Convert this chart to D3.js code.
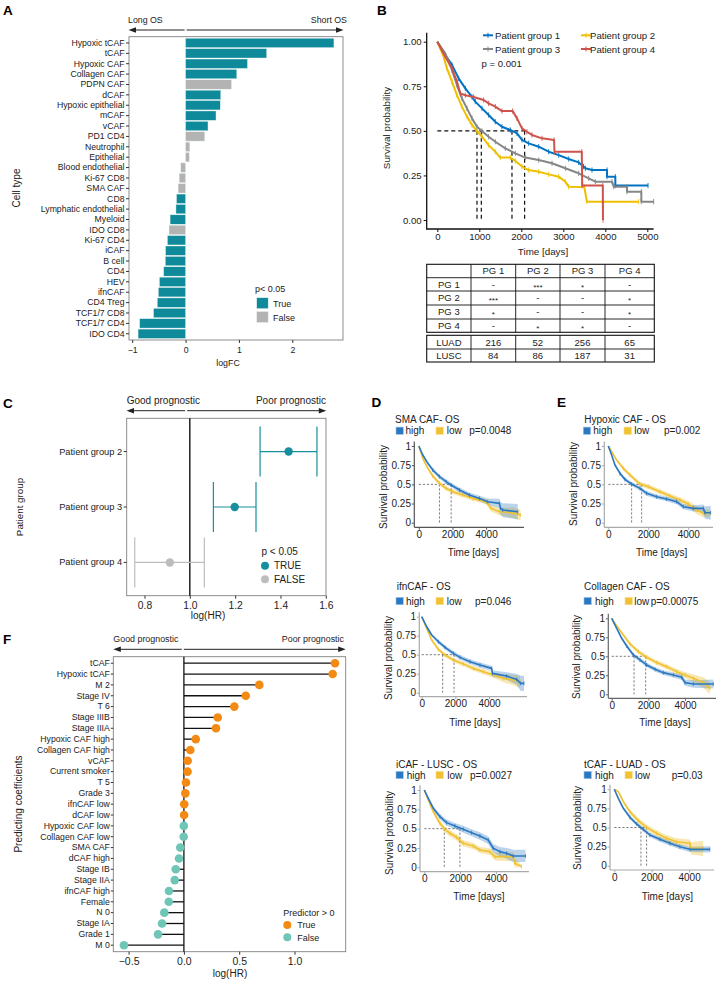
<!DOCTYPE html>
<html><head><meta charset="utf-8">
<script src="https://cdn.jsdelivr.net/npm/d3@7/dist/d3.min.js"></script>
<style>
html,body{margin:0;padding:0;background:#fff;}
svg{display:block;}
text{font-family:"Liberation Sans",Arial,Helvetica,sans-serif;}
</style></head><body>
<svg id="fig" width="719" height="984"></svg>
<script>
// ================= DATA =================
// Panel A
const cellTypes = ["Hypoxic tCAF","tCAF","Hypoxic CAF","Collagen CAF","PDPN CAF","dCAF","Hypoxic epithelial","mCAF","vCAF","PD1 CD4","Neutrophil","Epithelial","Blood endothelial","Ki-67 CD8","SMA CAF","CD8","Lymphatic endothelial","Myeloid","IDO CD8","Ki-67 CD4","iCAF","B cell","CD4","HEV","ifnCAF","CD4 Treg","TCF1/7 CD8","TCF1/7 CD4","IDO CD4"];
const cellLogFC = [2.78,1.52,1.16,0.96,0.86,0.66,0.65,0.57,0.42,0.36,0.08,0.07,-0.09,-0.12,-0.14,-0.17,-0.18,-0.29,-0.31,-0.34,-0.375,-0.38,-0.41,-0.49,-0.51,-0.53,-0.60,-0.86,-0.89];
const cellSignificant = [true,true,true,true,false,true,true,true,true,false,false,false,false,false,false,true,true,true,false,true,true,true,true,true,true,true,true,true,true];
const aTicks = [-1,0,1,2];

// Panel B  [time (days), survival probability]
const pgNames = ["Patient group 1","Patient group 2","Patient group 3","Patient group 4"];
const pg1Curve = [[0,1],[190,0.925],[350,0.87],[508,0.794],[667,0.738],[826,0.69],[905,0.664],[1064,0.626],[1222,0.589],[1381,0.551],[1540,0.523],[1739,0.505],[1898,0.486],[2016,0.449],[2175,0.43],[2414,0.411],[2652,0.383],[2890,0.364],[3128,0.342],[3366,0.323],[3480,0.3],[3525,0.29],[3684,0.28],[4041,0.28],[4041,0.243],[4239,0.243],[4239,0.193],[5018,0.193]];
const pg2Curve = [[0,1],[151,0.916],[230,0.85],[349,0.776],[468,0.70],[587,0.636],[706,0.58],[826,0.533],[945,0.499],[1064,0.467],[1222,0.42],[1381,0.383],[1500,0.35],[1739,0.35],[1858,0.331],[2016,0.30],[2175,0.28],[2414,0.271],[2652,0.256],[2890,0.243],[3048,0.215],[3128,0.187],[3500,0.185],[3560,0.103],[4796,0.103]];
const pg3Curve = [[0,1],[190,0.935],[350,0.84],[468,0.757],[587,0.682],[706,0.626],[826,0.57],[945,0.523],[1064,0.499],[1222,0.467],[1381,0.439],[1619,0.402],[1858,0.374],[2096,0.35],[2414,0.336],[2731,0.318],[3048,0.29],[3366,0.262],[3604,0.234],[3763,0.215],[4160,0.215],[4200,0.187],[4516,0.187],[4516,0.159],[4858,0.159],[4858,0.103],[5151,0.103]];
const pg4Curve = [[0,1],[190,0.916],[350,0.85],[468,0.776],[548,0.71],[667,0.70],[865,0.69],[1103,0.673],[1222,0.654],[1381,0.636],[1540,0.611],[1794,0.611],[1898,0.57],[2016,0.514],[2135,0.495],[2254,0.477],[2493,0.458],[2780,0.449],[2790,0.383],[3440,0.383],[3450,0.193],[3940,0.193],[3945,0]];
const pgMedians = [1778, 945, 1048, 2079];
const bTimeTicks = [0,1000,2000,3000,4000,5000];
const bSurvTicks = [0,0.25,0.5,0.75,1];
const pgHeader = ["", "PG 1", "PG 2", "PG 3", "PG 4"];
const pgPairwise = [["PG 1","-","***","*","-"],["PG 2","***","-","-","*"],["PG 3","*","-","-","*"],["PG 4","-","*","*","-"]];
const pgCohorts = [["LUAD",216,52,256,65],["LUSC",84,86,187,31]];

// Panel C
const hrGroups = ["Patient group 2","Patient group 3","Patient group 4"];
const hrValues = [1.436,1.198,0.912];
const hrLower = [1.31,1.104,0.757];
const hrUpper = [1.561,1.292,1.064];
const hrSignificant = [true,true,false];
const cTicks = [0.8,1.0,1.2,1.4,1.6];

// Panels D/E and lower KM panels  [time, survival, CI half-width]
const smaHigh = [[0,1,0],[238,0.883,0.015],[535,0.774,0.02],[832,0.687,0.025],[1228,0.60,0.028],[1624,0.535,0.03],[1921,0.491,0.03],[2416,0.426,0.032],[3010,0.36,0.033],[3604,0.317,0.035],[4099,0.274,0.04],[4792,0.252,0.06],[4850,0.19,0.08],[4990,0.165,0.09],[5881,0.143,0.1]];
const smaLow = [[0,1,0],[238,0.839,0.015],[535,0.709,0.02],[832,0.609,0.025],[1228,0.513,0.027],[1624,0.448,0.028],[2020,0.404,0.03],[2614,0.361,0.03],[3208,0.317,0.032],[4000,0.274,0.035],[4297,0.187,0.04],[4792,0.143,0.05],[5584,0.13,0.07],[6039,0.10,0.07]];
const hypHigh = [[0,1,0],[167,0.883,0.015],[333,0.752,0.02],[583,0.643,0.022],[833,0.565,0.025],[1167,0.504,0.027],[1583,0.448,0.028],[1917,0.383,0.03],[2417,0.339,0.03],[2917,0.309,0.03],[3417,0.274,0.032],[3750,0.209,0.035],[4250,0.187,0.04],[4750,0.187,0.05],[4833,0.13,0.08],[5117,0.13,0.09]];
const hypLow = [[0,1,0],[167,0.926,0.012],[417,0.817,0.02],[750,0.709,0.025],[1083,0.622,0.027],[1583,0.504,0.03],[2000,0.47,0.03],[2583,0.404,0.032],[3083,0.348,0.033],[3583,0.296,0.035],[4000,0.243,0.04],[4417,0.165,0.05],[4750,0.122,0.05],[5083,0.122,0.05]];
const ifnHigh = [[0,1,0],[297,0.868,0.015],[594,0.759,0.02],[990,0.671,0.025],[1386,0.596,0.028],[1881,0.518,0.03],[2277,0.465,0.03],[2871,0.408,0.032],[3465,0.364,0.035],[4158,0.32,0.035],[4200,0.254,0.04],[5049,0.219,0.05],[5643,0.175,0.07],[5881,0.123,0.1],[6079,0.123,0.1]];
const ifnLow = [[0,1,0],[297,0.846,0.015],[594,0.693,0.02],[990,0.57,0.025],[1386,0.496,0.027],[1881,0.43,0.028],[2475,0.377,0.03],[3069,0.32,0.03],[3663,0.276,0.032],[4257,0.232,0.035],[4851,0.189,0.05],[5445,0.167,0.07],[5841,0.145,0.08]];
const colHigh = [[0,1,0],[273,0.868,0.015],[545,0.737,0.02],[818,0.636,0.025],[1182,0.518,0.027],[1545,0.452,0.028],[1909,0.386,0.03],[2364,0.329,0.03],[2818,0.285,0.03],[3364,0.254,0.032],[3818,0.224,0.035],[4000,0.154,0.04],[4455,0.136,0.05],[5545,0.136,0.06]];
const colLow = [[0,1,0],[273,0.899,0.015],[636,0.781,0.02],[1000,0.662,0.025],[1455,0.561,0.028],[1909,0.487,0.03],[2455,0.417,0.032],[3000,0.364,0.033],[3545,0.298,0.035],[4000,0.254,0.04],[4455,0.211,0.05],[5000,0.154,0.07],[5364,0.079,0.08]];
const icafHigh = [[0,1,0],[223,0.892,0.02],[502,0.763,0.03],[874,0.655,0.035],[1246,0.578,0.04],[1711,0.534,0.04],[2176,0.491,0.045],[2641,0.448,0.045],[3106,0.405,0.05],[3571,0.353,0.05],[3850,0.246,0.055],[4222,0.203,0.06],[4594,0.181,0.07],[4966,0.147,0.08],[5654,0.147,0.08]];
const icafLow = [[0,1,0],[223,0.871,0.02],[502,0.72,0.03],[874,0.569,0.035],[1153,0.491,0.04],[1432,0.44,0.04],[1804,0.388,0.04],[2176,0.31,0.04],[2734,0.276,0.04],[3106,0.224,0.04],[3664,0.203,0.045],[3943,0.138,0.05],[4966,0.138,0.06],[5059,0.052,0.06],[5431,0.009,0.02]];
const tcafHigh = [[0,1,0],[214,0.882,0.015],[481,0.751,0.02],[837,0.633,0.025],[1193,0.546,0.027],[1549,0.476,0.028],[1905,0.402,0.03],[2439,0.345,0.03],[2973,0.293,0.032],[3507,0.249,0.033],[4040,0.214,0.035],[5109,0.214,0.04]];
const tcafLow = [[0,1,0],[214,0.969,0.015],[481,0.838,0.025],[837,0.707,0.03],[1282,0.59,0.035],[1727,0.502,0.037],[2261,0.424,0.04],[2795,0.358,0.04],[3329,0.314,0.045],[4040,0.293,0.05],[4100,0.227,0.08],[4752,0.227,0.1]];
const kmTitles = ["SMA CAF- OS","Hypoxic CAF - OS","ifnCAF - OS","Collagen CAF - OS","iCAF - LUSC - OS","tCAF - LUAD - OS"];
const kmPValues = ["p=0.0048","p=0.002","p=0.046","p=0.00075","p=0.0027","p=0.03"];
const kmMedians = [[1921,1228],[1167,1667],[1921,1247],[1218,1854],[1990,1116],[1424,1727]]; // [high, low]
const kmTimeTicks = [0,2000,4000];
const kmSurvTicks = [0,0.25,0.5,0.75,1];

// Panel F
const coefNames = ["tCAF","Hypoxic tCAF","M 2","Stage IV","T 6","Stage IIIB","Stage IIIA","Hypoxic CAF high","Collagen CAF high","vCAF","Current smoker","T 5","Grade 3","ifnCAF low","dCAF low","Hypoxic CAF low","Collagen CAF low","SMA CAF","dCAF high","Stage IB","Stage IIA","ifnCAF high","Female","N 0","Stage IA","Grade 1","M 0"];
const coefValues = [1.366,1.345,0.682,0.559,0.456,0.306,0.29,0.107,0.058,0.034,0.033,0.019,0.013,0.003,0.002,-0.001,-0.002,-0.033,-0.044,-0.074,-0.083,-0.135,-0.137,-0.177,-0.198,-0.234,-0.542];
const fTicks = [-0.5,0,0.5,1.0];

// ================= DRAWING =================
const svg = d3.select("#fig");
const INK = "#222";
const FONT = '"Liberation Sans",Arial,Helvetica,sans-serif';
const TEAL = "#0E8A9B", GREY_A = "#b3b3b3";
const PG_COLORS = ["#0073C2","#EFC000","#868686","#CD534C"];
const HIGH = "#2B78C2", LOW = "#F0C131";
const plain = d => String(d).replace("-", "\u2212");

function text(x, y, s, size, anchor, opt) {
  opt = opt || {};
  const t = svg.append("text").attr("x", x).attr("y", y).text(s)
    .attr("font-size", size).attr("text-anchor", anchor || "start")
    .attr("fill", opt.fill || INK);
  if (opt.weight) t.attr("font-weight", opt.weight);
  if (opt.rotate) t.attr("transform", `rotate(-90,${x},${y})`);
  return t;
}
function styleAxis(g, size, tickColor) {
  g.attr("font-family", FONT).attr("font-size", size);
  g.select(".domain").remove();
  g.selectAll(".tick line").attr("stroke", tickColor || "#333");
  g.selectAll(".tick text").attr("fill", INK);
}
function arrows(xl, xm, xr, y) {
  const g = svg.append("g").attr("stroke", "#222").attr("fill", "#222");
  g.append("line").attr("x1", xm - 1).attr("x2", xl + 6).attr("y1", y).attr("y2", y).attr("stroke-width", 1);
  g.append("line").attr("x1", xm + 1).attr("x2", xr - 6).attr("y1", y).attr("y2", y).attr("stroke-width", 1);
  g.append("path").attr("stroke", "none").attr("d", `M${xl},${y}L${xl + 7.5},${y - 2.8}L${xl + 7.5},${y + 2.8}Z`);
  g.append("path").attr("stroke", "none").attr("d", `M${xr},${y}L${xr - 7.5},${y - 2.8}L${xr - 7.5},${y + 2.8}Z`);
}
function panelLetter(x, y, s) { text(x, y, s, 13.5, "start", {weight: "bold", fill: "#000"}); }

// ---------- Panel A ----------
panelLetter(3, 15, "A");
const aX = d3.scaleLinear().domain([-1.06, 2.95]).range([129, 343]);
const aY = d3.scaleBand().domain(cellTypes).range([36.7, 340]).paddingInner(0.1).paddingOuter(0.15);
svg.append("g").selectAll("rect").data(cellTypes).join("rect")
  .attr("x", (d, i) => aX(Math.min(0, cellLogFC[i])))
  .attr("width", (d, i) => Math.abs(aX(cellLogFC[i]) - aX(0)))
  .attr("y", d => aY(d)).attr("height", aY.bandwidth())
  .attr("fill", (d, i) => cellSignificant[i] ? TEAL : GREY_A)
  .attr("stroke", "#e6f2f3").attr("stroke-width", 0.4);
svg.append("rect").attr("x", 129).attr("y", 36.7).attr("width", 214).attr("height", 303.3)
  .attr("fill", "none").attr("stroke", "#808080").attr("stroke-width", 0.9);
styleAxis(svg.append("g").attr("transform", "translate(129,0)")
  .call(d3.axisLeft(aY).tickSize(3).tickPadding(1.5)), 8.7);
styleAxis(svg.append("g").attr("transform", "translate(0,340)")
  .call(d3.axisBottom(aX).tickValues(aTicks).tickFormat(plain).tickSize(3).tickPadding(3.5)), 8.7);
text(228, 366, "logFC", 8.8, "middle");
text(20, 188, "Cell type", 10, "middle", {rotate: true});
arrows(128.5, 185.6, 343.5, 30);
text(128, 23, "Long OS", 8.8, "start");
text(347, 23, "Short OS", 8.8, "end");
text(255, 291.5, "p< 0.05", 9, "start");
svg.append("rect").attr("x", 256.7).attr("y", 297.7).attr("width", 11.5).attr("height", 11).attr("fill", TEAL).attr("stroke","#e6f2f3").attr("stroke-width",0.5);
svg.append("rect").attr("x", 256.7).attr("y", 311.5).attr("width", 11.5).attr("height", 11).attr("fill", GREY_A).attr("stroke","#eee").attr("stroke-width",0.5);
text(273, 306.5, "True", 9, "start");
text(273, 320.5, "False", 9, "start");

// ---------- Panel B ----------
panelLetter(377, 15, "B");
const bX = d3.scaleLinear().domain([0, 5000]).range([437.3, 647.3]);
const bY = d3.scaleLinear().domain([0, 1]).range([220, 41.7]);
svg.append("line").attr("x1", 426.7).attr("x2", 426.7).attr("y1", bY(1.05)).attr("y2", 229.2).attr("stroke", "#111").attr("stroke-width", 1.3);
svg.append("line").attr("x1", 426.1).attr("x2", bX(5150)).attr("y1", 229).attr("y2", 229).attr("stroke", "#111").attr("stroke-width", 1.3);
styleAxis(svg.append("g").attr("transform", "translate(426.7,0)")
  .call(d3.axisLeft(bY).tickValues(bSurvTicks).tickFormat(d3.format(".2f")).tickSize(3).tickPadding(2)), 9.6, "#111");
styleAxis(svg.append("g").attr("transform", "translate(0,229)")
  .call(d3.axisBottom(bX).tickValues(bTimeTicks).tickFormat(plain).tickSize(3).tickPadding(1.5)), 9.6, "#111");
text(543, 254.5, "Time [days]", 9.8, "middle");
text(390, 128, "Survival probability", 9.8, "middle", {rotate: true});
// median dashes
const dashG = svg.append("g").attr("stroke", "#111").attr("stroke-width", 1.2).attr("stroke-dasharray", "4,3");
dashG.append("line").attr("x1", bX(0)).attr("x2", bX(d3.max(pgMedians))).attr("y1", bY(0.5)).attr("y2", bY(0.5));
dashG.selectAll("line.v").data(pgMedians).join("line").attr("class", "v")
  .attr("x1", d => bX(d)).attr("x2", d => bX(d)).attr("y1", bY(0.5)).attr("y2", bY(0));
const bLine = d3.line().x(d => bX(d[0])).y(d => bY(d[1]));
[pg1Curve, pg2Curve, pg3Curve, pg4Curve].forEach((c, i) => {
  svg.append("path").attr("d", bLine(c)).attr("fill", "none").attr("stroke", PG_COLORS[i])
    .attr("stroke-width", 2).attr("stroke-linejoin", "round");
  svg.append("g").selectAll("line").data(c.slice(2)).join("line")
    .attr("x1", d => bX(d[0])).attr("x2", d => bX(d[0]))
    .attr("y1", d => bY(d[1]) - 2.6).attr("y2", d => bY(d[1]) + 2.6)
    .attr("stroke", PG_COLORS[i]).attr("stroke-width", 0.9);
});
// legend
const legPos = [[483, 35.3], [581, 35.3], [483, 49], [581, 49]];
pgNames.forEach((n, i) => {
  const [lx, ly] = legPos[i];
  svg.append("line").attr("x1", lx).attr("x2", lx + 10).attr("y1", ly).attr("y2", ly).attr("stroke", PG_COLORS[i]).attr("stroke-width", 2);
  svg.append("line").attr("x1", lx + 5).attr("x2", lx + 5).attr("y1", ly - 2.5).attr("y2", ly + 2.5).attr("stroke", PG_COLORS[i]).attr("stroke-width", 1);
  text(lx + (i % 2 ? 9 : 12), ly + 3.5, n, 9.6, "start");
});
text(481.5, 66.5, "p = 0.001", 9.6, "start");
// table
const colEdges = [426.7, 471, 515.7, 560, 605, 654.3];
function drawTable(rows, rowEdges) {
  const tg = svg.append("g");
  tg.append("rect").attr("x", colEdges[0]).attr("y", rowEdges[0]).attr("width", colEdges[5] - colEdges[0])
    .attr("height", rowEdges[rowEdges.length - 1] - rowEdges[0]).attr("fill", "none").attr("stroke", "#111").attr("stroke-width", 1.1);
  rowEdges.slice(1, -1).forEach(y => tg.append("line").attr("x1", colEdges[0]).attr("x2", colEdges[5]).attr("y1", y).attr("y2", y).attr("stroke", "#111").attr("stroke-width", 0.9));
  colEdges.slice(1, -1).forEach(x => tg.append("line").attr("x1", x).attr("x2", x).attr("y1", rowEdges[0]).attr("y2", rowEdges[rowEdges.length - 1]).attr("stroke", "#111").attr("stroke-width", 0.9));
  rows.forEach((r, ri) => r.forEach((c, ci) => {
    const cy = (rowEdges[ri] + rowEdges[ri + 1]) / 2;
    const cx = (colEdges[ci] + colEdges[ci + 1]) / 2;
    const s = String(c);
    const isStar = /^\*+$/.test(s);
    text(cx, cy + (isStar ? 5.2 : 3.4), s, isStar ? 8 : 9.5, "middle");
  }));
}
drawTable([pgHeader].concat(pgPairwise), [264.3, 277.7, 291, 305, 319, 332.3]);
drawTable(pgCohorts, [335.3, 349, 362]);

// ---------- Panel C ----------
panelLetter(3, 407.5, "C");
const cX = d3.scaleLinear().domain([0.8, 1.6]).range([144.5, 325.8]);
const cY = d3.scaleBand().domain(hrGroups).range([418.3, 595.7]).paddingInner(0.1).paddingOuter(0.15);
const cMid = d => cY(d) + cY.bandwidth() / 2;
svg.append("rect").attr("x", 126.7).attr("y", 418.3).attr("width", 199.3).attr("height", 177.4).attr("fill", "none").attr("stroke", "#808080").attr("stroke-width", 0.9);
svg.append("line").attr("x1", cX(1)).attr("x2", cX(1)).attr("y1", 418.3).attr("y2", 595.7).attr("stroke", "#000").attr("stroke-width", 1.3);
hrGroups.forEach((g, i) => {
  const col = hrSignificant[i] ? "#178E9E" : "#bdbdbd";
  const y = cMid(g);
  const eg = svg.append("g").attr("stroke", col).attr("stroke-width", 1.2);
  eg.append("line").attr("x1", cX(hrLower[i])).attr("x2", cX(hrUpper[i])).attr("y1", y).attr("y2", y);
  eg.append("line").attr("x1", cX(hrLower[i])).attr("x2", cX(hrLower[i])).attr("y1", y - 25).attr("y2", y + 25);
  eg.append("line").attr("x1", cX(hrUpper[i])).attr("x2", cX(hrUpper[i])).attr("y1", y - 25).attr("y2", y + 25);
  svg.append("circle").attr("cx", cX(hrValues[i])).attr("cy", y).attr("r", 4.2).attr("fill", col);
});
styleAxis(svg.append("g").attr("transform", "translate(126.7,0)").call(d3.axisLeft(cY).tickSize(3).tickPadding(1.5)), 9.3);
styleAxis(svg.append("g").attr("transform", "translate(0,595.7)")
  .call(d3.axisBottom(cX).tickValues(cTicks).tickFormat(d3.format(".1f")).tickSize(3).tickPadding(2.5)), 10.3);
text(208, 619, "log(HR)", 10, "middle");
text(23, 507, "Patient group", 9.8, "middle", {rotate: true});
arrows(126.5, 186.2, 326.3, 410.7);
text(126.7, 404, "Good prognostic", 10, "start");
text(326, 404, "Poor prognostic", 10, "end");
text(261.5, 555.2, "p < 0.05", 10, "start");
svg.append("circle").attr("cx", 265).attr("cy", 565.7).attr("r", 4).attr("fill", "#178E9E");
svg.append("circle").attr("cx", 265).attr("cy", 579.3).attr("r", 4).attr("fill", "#bdbdbd");
text(274, 569.3, "TRUE", 10, "start");
text(274, 583, "FALSE", 10, "start");

// ---------- Small KM panels ----------
const kmLayout = [
  {ox:418.8, kx:0.01683, y1:446,   y0:522.7, ax:414.3, ay:527.3, xr:524, tx:395,   ty:422.5, ly:430.7, s1:396,   h:405.5, s2:436,   l:446.7, p:469.3, ylx:386.5, yly:487, xlx:473.3, xly:555.8, axc:"#555"},
  {ox:608.3, kx:0.0200,  y1:446,   y0:522.7, ax:604.3, ay:527.3, xr:713, tx:584.3, ty:422.5, ly:430.7, s1:583.3, h:593.3, s2:624,   l:634.3, p:664,   ylx:576.5, yly:484, xlx:661.7, xly:555.8, axc:"#aaa"},
  {ox:421.7, kx:0.01683, y1:616.7, y0:692.7, ax:419.3, ay:696.7, xr:527, tx:396.7, ty:590.2, ly:601,   s1:396,   h:406,   s2:436,   l:446.7, p:475,   ylx:391.5, yly:658, xlx:475,   xly:726.2, axc:"#aaa"},
  {ox:611.7, kx:0.01833, y1:618.3, y0:694.3, ax:608.3, ay:698.3, xr:716, tx:584,   ty:590.2, ly:601,   s1:584,   h:595,   s2:625,   l:634.3, p:650.7, ylx:580,   yly:657, xlx:665,   xly:726.2, axc:"#666"},
  {ox:424.3, kx:0.0179,  y1:790,   y0:867.3, ax:420,   ay:871.7, xr:529, tx:396,   ty:767.5, ly:775,   s1:396,   h:406.7, s2:436,   l:447.3, p:470,   ylx:392.5, yly:833, xlx:479,   xly:899.5, axc:"#aaa"},
  {ox:614.3, kx:0.0187,  y1:789.3, y0:865.7, ax:610,   ay:870,   xr:714, tx:584,   ty:767.5, ly:775,   s1:584,   h:595,   s2:625,   l:635,   p:671.7, ylx:580.5, yly:828, xlx:667.3, xly:899.5, axc:"#aaa"}
];
const kmData = [[smaHigh, smaLow],[hypHigh, hypLow],[ifnHigh, ifnLow],[colHigh, colLow],[icafHigh, icafLow],[tcafHigh, tcafLow]];
kmLayout.forEach((L, k) => {
  const x = d3.scaleLinear().domain([0, 4000]).range([L.ox, L.ox + 4000 * L.kx]);
  const y = d3.scaleLinear().domain([0, 1]).range([L.y0, L.y1]);
  const [hi, lo] = kmData[k];
  const area = d3.area().x(d => x(d[0])).y0(d => y(Math.max(0, d[1] - d[2]))).y1(d => y(Math.min(1, d[1] + d[2])));
  const line = d3.line().x(d => x(d[0])).y(d => y(d[1]));
  svg.append("path").attr("d", area(lo)).attr("fill", LOW).attr("fill-opacity", 0.38);
  svg.append("path").attr("d", area(hi)).attr("fill", HIGH).attr("fill-opacity", 0.32);
  // medians
  const [mh, ml] = kmMedians[k];
  const dg = svg.append("g").attr("stroke", "#444").attr("stroke-width", 0.7).attr("stroke-dasharray", "2.2,1.8");
  dg.append("line").attr("x1", x(0)).attr("x2", x(Math.max(mh, ml))).attr("y1", y(0.5)).attr("y2", y(0.5));
  [mh, ml].forEach(m => dg.append("line").attr("x1", x(m)).attr("x2", x(m)).attr("y1", y(0.5)).attr("y2", y(0)));
  [[lo, LOW], [hi, HIGH]].forEach(([c, col]) => {
    svg.append("path").attr("d", line(c)).attr("fill", "none").attr("stroke", col).attr("stroke-width", 1.6).attr("stroke-linejoin", "round");
    svg.append("g").selectAll("line").data(c.slice(3)).join("line")
      .attr("x1", d => x(d[0])).attr("x2", d => x(d[0]))
      .attr("y1", d => y(d[1]) - 2).attr("y2", d => y(d[1]) + 2)
      .attr("stroke", col).attr("stroke-width", 0.8);
  });
  // axes
  svg.append("line").attr("x1", L.ax).attr("x2", L.ax).attr("y1", y(1.06)).attr("y2", L.ay).attr("stroke", L.axc).attr("stroke-width", 1.2);
  svg.append("line").attr("x1", L.ax).attr("x2", L.xr).attr("y1", L.ay).attr("y2", L.ay).attr("stroke", L.axc).attr("stroke-width", 1.2);
  const ya = svg.append("g").attr("transform", `translate(${L.ax},0)`)
    .call(d3.axisLeft(y).tickValues(kmSurvTicks).tickFormat(d => String(d)).tickSize(2.5).tickPadding(0.8));
  styleAxis(ya, 10, L.axc);
  const xa = svg.append("g").attr("transform", `translate(0,${L.ay})`)
    .call(d3.axisBottom(x).tickValues(kmTimeTicks).tickFormat(d => String(d)).tickSize(2.5).tickPadding(1));
  styleAxis(xa, 10, L.axc);
  text(L.xlx, L.xly, "Time [days]", 10, "middle");
  text(L.ylx, L.yly, "Survival probability", 10, "middle", {rotate: true});
  text(L.tx, L.ty, kmTitles[k], 10, "start");
  svg.append("rect").attr("x", L.s1).attr("y", L.ly - 3.6).attr("width", 7.3).attr("height", 7.3).attr("fill", HIGH).attr("stroke", "#9cc4ea").attr("stroke-width", 0.6);
  svg.append("rect").attr("x", L.s2).attr("y", L.ly - 3.6).attr("width", 7.3).attr("height", 7.3).attr("fill", LOW).attr("stroke", "#f7dc8a").attr("stroke-width", 0.6);
  text(L.h, L.ly + 3.6, "high", 10, "start");
  text(L.l, L.ly + 3.6, "low", 10, "start");
  text(L.p, L.ly + 3.6, kmPValues[k], 10, "start");
});
panelLetter(371.5, 406.7, "D");
panelLetter(557, 406.7, "E");

// ---------- Panel F ----------
panelLetter(3, 644.3, "F");
const fX = d3.scaleLinear().domain([-0.5, 1.0]).range([128.6, 294.5]);
const fY = d3.scaleBand().domain(coefNames).range([656.7, 951.7]).paddingInner(0.1).paddingOuter(0.15);
const fMid = d => fY(d) + fY.bandwidth() / 2;
svg.append("rect").attr("x", 113.3).attr("y", 656.7).attr("width", 232.4).attr("height", 295).attr("fill", "none").attr("stroke", "#808080").attr("stroke-width", 0.9);
svg.append("line").attr("x1", fX(0)).attr("x2", fX(0)).attr("y1", 656.7).attr("y2", 951.7).attr("stroke", "#111").attr("stroke-width", 1.3);
svg.append("g").selectAll("line").data(coefNames).join("line")
  .attr("x1", fX(0)).attr("x2", (d, i) => fX(coefValues[i]))
  .attr("y1", d => fMid(d)).attr("y2", d => fMid(d))
  .attr("stroke", "#111").attr("stroke-width", 1.3);
svg.append("g").selectAll("circle").data(coefNames).join("circle")
  .attr("cx", (d, i) => fX(coefValues[i])).attr("cy", d => fMid(d)).attr("r", 4.3)
  .attr("fill", (d, i) => coefValues[i] > 0 ? "#F28A14" : "#6FC5B6");
styleAxis(svg.append("g").attr("transform", "translate(113.3,0)").call(d3.axisLeft(fY).tickSize(2.5).tickPadding(1)), 8.7);
styleAxis(svg.append("g").attr("transform", "translate(0,951.7)")
  .call(d3.axisBottom(fX).tickValues(fTicks).tickFormat(d3.format(".1f")).tickSize(3).tickPadding(2.5)), 10.5);
text(230, 977, "log(HR)", 10, "middle");
text(21.5, 804, "Predicting coefficients", 10, "middle", {rotate: true});
arrows(113.3, 182.8, 345.7, 649.3);
text(113.3, 642, "Good prognostic", 8.9, "start");
text(344, 642, "Poor prognostic", 8.9, "end");
text(283.3, 915.5, "Predictor > 0", 9, "start");
svg.append("circle").attr("cx", 287.3).attr("cy", 925).attr("r", 4).attr("fill", "#F28A14");
svg.append("circle").attr("cx", 287.3).attr("cy", 937.3).attr("r", 4).attr("fill", "#6FC5B6");
text(297.3, 928.3, "True", 9, "start");
text(297.3, 940.6, "False", 9, "start");
</script>
</body></html>
